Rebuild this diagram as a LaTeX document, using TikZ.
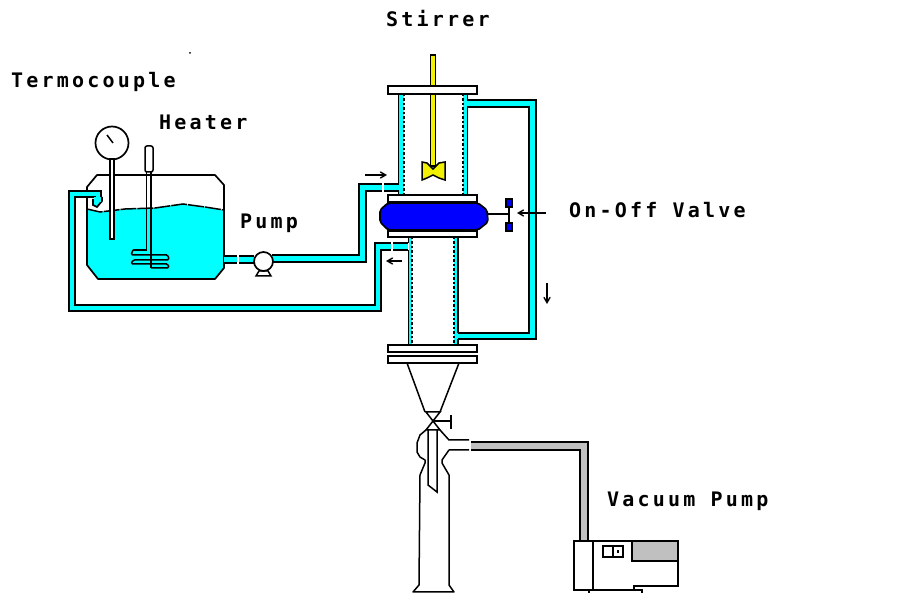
\documentclass[tikz,border=0pt]{standalone}
\usepackage{fontspec}
\newfontfamily\labelfont[LetterSpace=16]{DejaVu Sans Mono}
\usepackage{tikz}
\usetikzlibrary{arrows,positioning}
\definecolor{water}{RGB}{0,255,255}
\definecolor{vessel}{RGB}{0,0,255}
\definecolor{shaft}{RGB}{240,240,0}
\definecolor{vacgray}{RGB}{192,192,192}
\tikzstyle{outline}=[draw=black, line width=1.7pt]
\tikzstyle{thin}=[draw=black, line width=1.5pt]
\tikzstyle{pipe}=[draw=black, line width=1.8pt, double=water, double distance=4.5pt, miter limit=10]
\tikzstyle{vacpipe}=[draw=black, line width=1.8pt, double=vacgray, double distance=6.5pt]
\tikzstyle{flange}=[outline, fill=white]
\tikzstyle{pipegap}=[draw=white, line width=2pt]
\tikzstyle{flowarrow}=[->, >=angle 60, draw=black, line width=1.4pt]
\tikzstyle{wall}=[draw=black, line width=1.6pt, dash pattern=on 2.5pt off 2pt]
\tikzstyle{label}=[font=\labelfont\bfseries\fontsize{20}{22}\selectfont, inner sep=0pt, anchor=base west]

\begin{document}
\begin{tikzpicture}[x=1pt, y=-1pt]
	\useasboundingbox (0,0) rectangle (906,593);

	\node[label] (stirrer) at (386,27) {Stirrer};
	\node[label] (termocouple) at (11,88) {Termocouple};
	\node[label] (heater) at (159,130) {Heater};
	\node[label] (pumplabel) at (240,229) {Pump};
	\node[label] (onoff) at (569,218) {On-Off Valve};
	\node[label] (vacuum) at (607,507) {Vacuum Pump};
	\fill (190,53) circle (1);

	% tank
	\fill[water] (87,209) -- (100,212) -- (125,209) -- (155,208) -- (183,204) -- (205,207) -- (224,210)
		-- (224,268) -- (215,279) -- (98,279) -- (87,265) -- cycle;
	\draw[outline, line join=round] (87,198) -- (87,187) -- (97,175) -- (215,175) -- (224,185) -- (224,268) -- (215,279)
		-- (98,279) -- (87,265) -- (87,198);
	\draw[thin, dash pattern=on 16pt off 1pt] (87,209) -- (100,212) -- (125,209) -- (155,208) -- (183,204) -- (205,207) -- (224,210);

	% gauge and heater
	\draw[outline] (112,143) circle (16.5);
	\draw[thin] (107,135) -- (113,143);
	\draw[thin, fill=white] (110,159) rectangle (114,239);
	\draw[thin, fill=white, rounded corners=2pt] (145,146) rectangle (153,172);
	\draw[thin] (146.5,172) -- (146.5,250) -- (133,250);
	\draw[thin] (151,172) -- (151,268);
	\draw[thin, rounded corners=1.5pt] (133,250) -- (131,255) -- (168,255) -- (169,260) -- (133,260) -- (131,264)
		-- (168,264) -- (169,268) -- (151,268);

	% circulation
	\draw[pipe] (98,202) -- (98,194) -- (72,194) -- (72,308) -- (378,308) -- (378,246.5) -- (408,246.5);
	\draw[outline, fill=water] (93,199) -- (93,205) -- (97,207) -- (102,201) -- (102,197);
	\fill[water] (94,197) rectangle (101,202);
	\draw[pipe] (224,259.5) -- (254,259.5);
	\draw[pipe] (272,258.5) -- (362.5,258.5) -- (362.5,187.5) -- (400,187.5);
	\draw[pipegap] (383,182) -- (383,193);
	\draw[pipegap] (392,241) -- (392,252);
	\draw[pipegap] (238,254) -- (238,265);
	\draw[pipe] (467,103.5) -- (532.5,103.5) -- (532.5,336) -- (456,336);

	% pump
	\draw[thin, fill=white] (256,276) -- (259,271) -- (268,271) -- (271,276) -- cycle;
	\draw[outline, fill=white] (263.5,261.5) circle (9.5);

	% upper jacket
	\fill[water] (399,94) rectangle (404,195);
	\fill[water] (463,94) rectangle (467,195);
	\draw[outline] (398.5,94) -- (398.5,184);
	\draw[outline] (398.5,191) -- (398.5,195);
	\draw[outline] (467.5,94) -- (467.5,100);
	\draw[outline] (467.5,107) -- (467.5,195);
	\draw[wall] (404,94) -- (404,195);
	\draw[wall] (463,94) -- (463,195);

	% lower jacket
	\fill[water] (409,237) rectangle (412,345);
	\fill[water] (454,237) rectangle (458,345);
	\draw[outline] (408.5,237) -- (408.5,243);
	\draw[outline] (408.5,250) -- (408.5,345);
	\draw[outline] (458,237) -- (458,333);
	\draw[outline] (458,339) -- (458,345);
	\draw[wall] (412,237) -- (412,345);
	\draw[wall] (454,237) -- (454,345);

	% stirrer
	\draw[draw=black, line width=1.5pt, fill=shaft] (430.5,55) rectangle (435.5,166);
	\draw[thin, fill=shaft] (422,162) -- (427,163) -- (433,169) -- (439,163) -- (445,162) -- (445,180) -- (439,178)
		-- (433,175) -- (427,178) -- (422,180) -- cycle;

	% flanges and vessel
	\draw[flange] (388,86) rectangle (477,94);
	\draw[flange] (388,195) rectangle (477,202);
	\draw[flange] (388,231) rectangle (477,237);
	\draw[flange] (388,345) rectangle (477,352);
	\draw[flange] (388,356) rectangle (477,363);
	\draw[outline, fill=vessel, rounded corners=2pt] (388,203) -- (478,203) -- (487,210) -- (488,222) -- (478,230)
		-- (388,230) -- (380,222) -- (380,210) -- cycle;

	% on-off valve
	\draw[thin] (488,214) -- (509,214);
	\draw[outline] (509,207) -- (509,223);
	\draw[thin, fill=vessel] (506,199) rectangle (512,207);
	\draw[thin, fill=vessel] (506,223) rectangle (512,231);
	\coordinate (valvefrom) at (546,213);
	\coordinate (valveto) at (517,213);
	\draw[flowarrow] (valvefrom) -- (valveto);

	% flow directions
	\draw[flowarrow] (365,175) -- (387,175);
	\draw[flowarrow] (402,261) -- (386,261);
	\draw[flowarrow] (547,283) -- (547,304);

	% cone and flask
	\draw[thin] (407,363) -- (425,412);
	\draw[thin] (459,363) -- (440,412);
	\draw[thin] (426,412) -- (440,412) -- (426,430) -- (440,430) -- cycle;
	\draw[thin] (433,421) -- (451,421);
	\draw[thin] (451,415) -- (451,429);
	\draw[thin] (428,430) -- (428,485) -- (437,492) -- (437,430);
	\draw[thin, line join=round] (426,430) -- (420,435) -- (417,443) -- (417,452) -- (420,457) -- (425,460) -- (425,463)
		-- (420,475) -- (419,585) -- (413,592) -- (454,592) -- (449,585) -- (449,475) -- (442,463) -- (442,460)
		-- (449,450) -- (469,450);
	\draw[thin] (440,430) -- (449,440) -- (469,440);

	% vacuum line and pump
	\draw[vacpipe] (471,446) -- (584,446) -- (584,541);
	\draw[outline, fill=white] (574,541) rectangle (593,590);
	\draw[outline, fill=white] (593,541) -- (678,541) -- (678,586) -- (634,586) -- (634,590) -- (593,590) -- cycle;
	\draw[outline, fill=vacgray] (632,541) rectangle (678,561);
	\draw[outline] (603,546) rectangle (623,557);
	\draw[outline] (613,546) -- (613,557);
	\draw[thin] (618,550) -- (618,553);
	\draw[outline] (589,593) -- (589,590) -- (642,590) -- (642,593);
\end{tikzpicture}
\end{document}
